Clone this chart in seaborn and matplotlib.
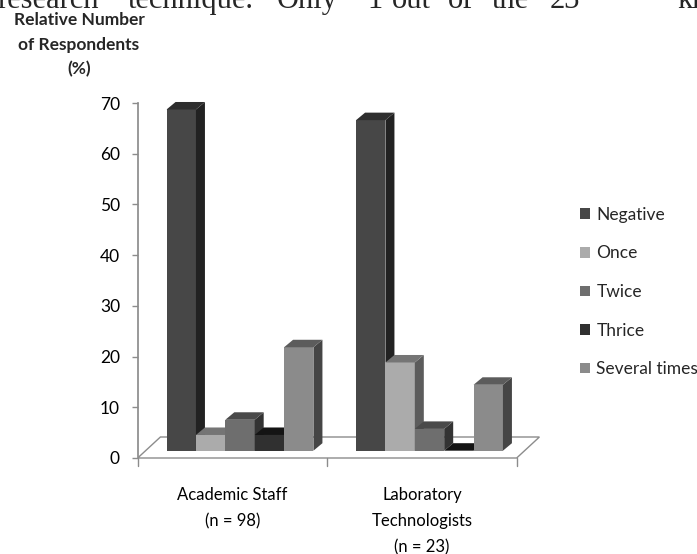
import numpy as np
import pandas as pd
import matplotlib
matplotlib.use("Agg")
import matplotlib.pyplot as plt
import seaborn as sns
from matplotlib.patches import Polygon, Patch, Rectangle
from matplotlib.colors import to_hex

# ---- data ----
groups = ["Academic Staff\n(n = 98)", "Laboratory\nTechnologists\n(n = 23)"]
responses = ["Negative", "Once", "Twice", "Thrice", "Several times"]
academic = [67.3, 3.1, 6.1, 3.1, 20.4]
lab = [65.2, 17.4, 4.3, 0.0, 13.0]
yticks = [0, 10, 20, 30, 40, 50, 60, 70]
ytitle = "Relative Number\nof Respondents\n(%)"
page_words = ["research", "technique.", "Only", "1", "out", "of", "the", "23", "kn"]
page_word_x = [-3, 128, 277, 367, 392, 448, 492, 550, 677]

front_colors = ["#474747", "#ababab", "#6e6e6e", "#303030", "#8b8b8b"]
side_colors = ["#222222", "#5c5c5c", "#333333", "#181818", "#454545"]
top_colors = ["#2e2e2e", "#757575", "#4a4a4a", "#141414", "#5c5c5c"]
gray = "#8c8c8c"

sns.set_theme(style="white")
plt.rcParams["font.family"] = ["Lato", "DejaVu Sans"]

W, H = 697, 554
fig = plt.figure(figsize=(W / 100, H / 100), dpi=100)
ax_l, ax_r, ax_t, ax_b = 138, 550, 95, 470
ax = fig.add_axes([ax_l / W, 1 - ax_b / H, (ax_r - ax_l) / W, (ax_b - ax_t) / H])

df = pd.DataFrame({
    "group": np.repeat(groups, len(responses)),
    "response": responses * len(groups),
    "value": academic + lab,
})
sns.barplot(data=df, x="group", y="value", hue="response", order=groups,
            hue_order=responses, palette=front_colors, saturation=1,
            width=0.775, dodge=True, legend=False, errorbar=None,
            linewidth=0, ax=ax)

# scales (pixels per data unit)
px_x, px_y = 189.5, 5.07
x0_px, base_px = 240, 450.7
ax.set_xlim((ax_l - x0_px) / px_x, (ax_r - x0_px) / px_x)
ax.set_ylim(-(ax_b - base_px) / px_y, (base_px - ax_t) / px_y)
ax.set_xlabel("")
ax.set_ylabel("")
ax.set_yticks([])
for s in ax.spines.values():
    s.set_visible(False)

# 3-D faces derived from the bars
dx, dy = 9 / px_x, 7.5 / px_y
cidx = {to_hex(c): i for i, c in enumerate(front_colors)}
rects = sorted([p for p in ax.patches if isinstance(p, Rectangle)], key=lambda p: p.get_x())
for k, p in enumerate(rects):
    x0, w, h = p.get_x(), p.get_width(), p.get_height()
    i = cidx[to_hex(p.get_facecolor())]
    p.set_zorder(3 + k)
    ax.add_patch(Polygon([(x0 + w, 0), (x0 + w + dx, dy), (x0 + w + dx, h + dy), (x0 + w, h)],
                         closed=True, facecolor=side_colors[i], edgecolor="none", zorder=3.5 + k))
    ax.add_patch(Polygon([(x0, h), (x0 + w, h), (x0 + w + dx, h + dy), (x0 + dx, h + dy)],
                         closed=True, facecolor=top_colors[i], edgecolor="none", zorder=3.5 + k))

# floor
shift = 0.04
f0 = -(458 - base_px) / px_y
fd = 21 / px_y
fx = 0.12
L, R = -0.5 - shift, len(groups) - 0.5 - shift
ax.add_patch(Polygon([(L, f0), (R, f0), (R + fx, f0 + fd), (L + fx, f0 + fd)], closed=True,
                     facecolor="white", edgecolor=gray, lw=1, zorder=1))
for b in np.arange(len(groups) + 1) - 0.5 - shift:
    ax.plot([b, b], [f0, f0 - 8 / px_y], color=gray, lw=1, clip_on=False, zorder=2)

# x labels
ax.set_xticks(np.arange(len(groups)) - shift, labels=groups)
ax.tick_params(axis="x", length=0, pad=12, labelsize=12, labelcolor="black")
for lbl in ax.get_xticklabels():
    lbl.set_linespacing(1.78)

# y axis (front edge)
sec = ax.secondary_yaxis(0, functions=(lambda y: y - f0, lambda y: y + f0))
sec.set_yticks(yticks)
sec.spines["left"].set_bounds(yticks[0], yticks[-1])
sec.spines["left"].set_color(gray)
sec.tick_params(axis="y", length=4, width=1, color=gray, labelsize=12.5, pad=9,
                labelcolor="black", left=True)

fig.text(79 / W, 1 - 45 / H, ytitle, ha="center", va="center", fontweight="bold",
         fontsize=12.5, linespacing=1.65)

# legend
handles = [Patch(facecolor=c, edgecolor="none") for c in front_colors]
fig.legend(handles, responses, loc="center left", bbox_to_anchor=(580 / W, 1 - 292 / H),
           frameon=False, handlelength=0.55, handleheight=0.55, handletextpad=0.4,
           labelspacing=1.3, fontsize=12.5, borderpad=0, borderaxespad=0)

# surrounding page text, cut at top
for wd, xp in zip(page_words, page_word_x):
    fig.text(xp / W, 1 - 8 / H, wd, ha="left", va="baseline",
             family=["Liberation Serif", "DejaVu Serif"], fontsize=22)

fig.savefig("out.png", dpi=100)
